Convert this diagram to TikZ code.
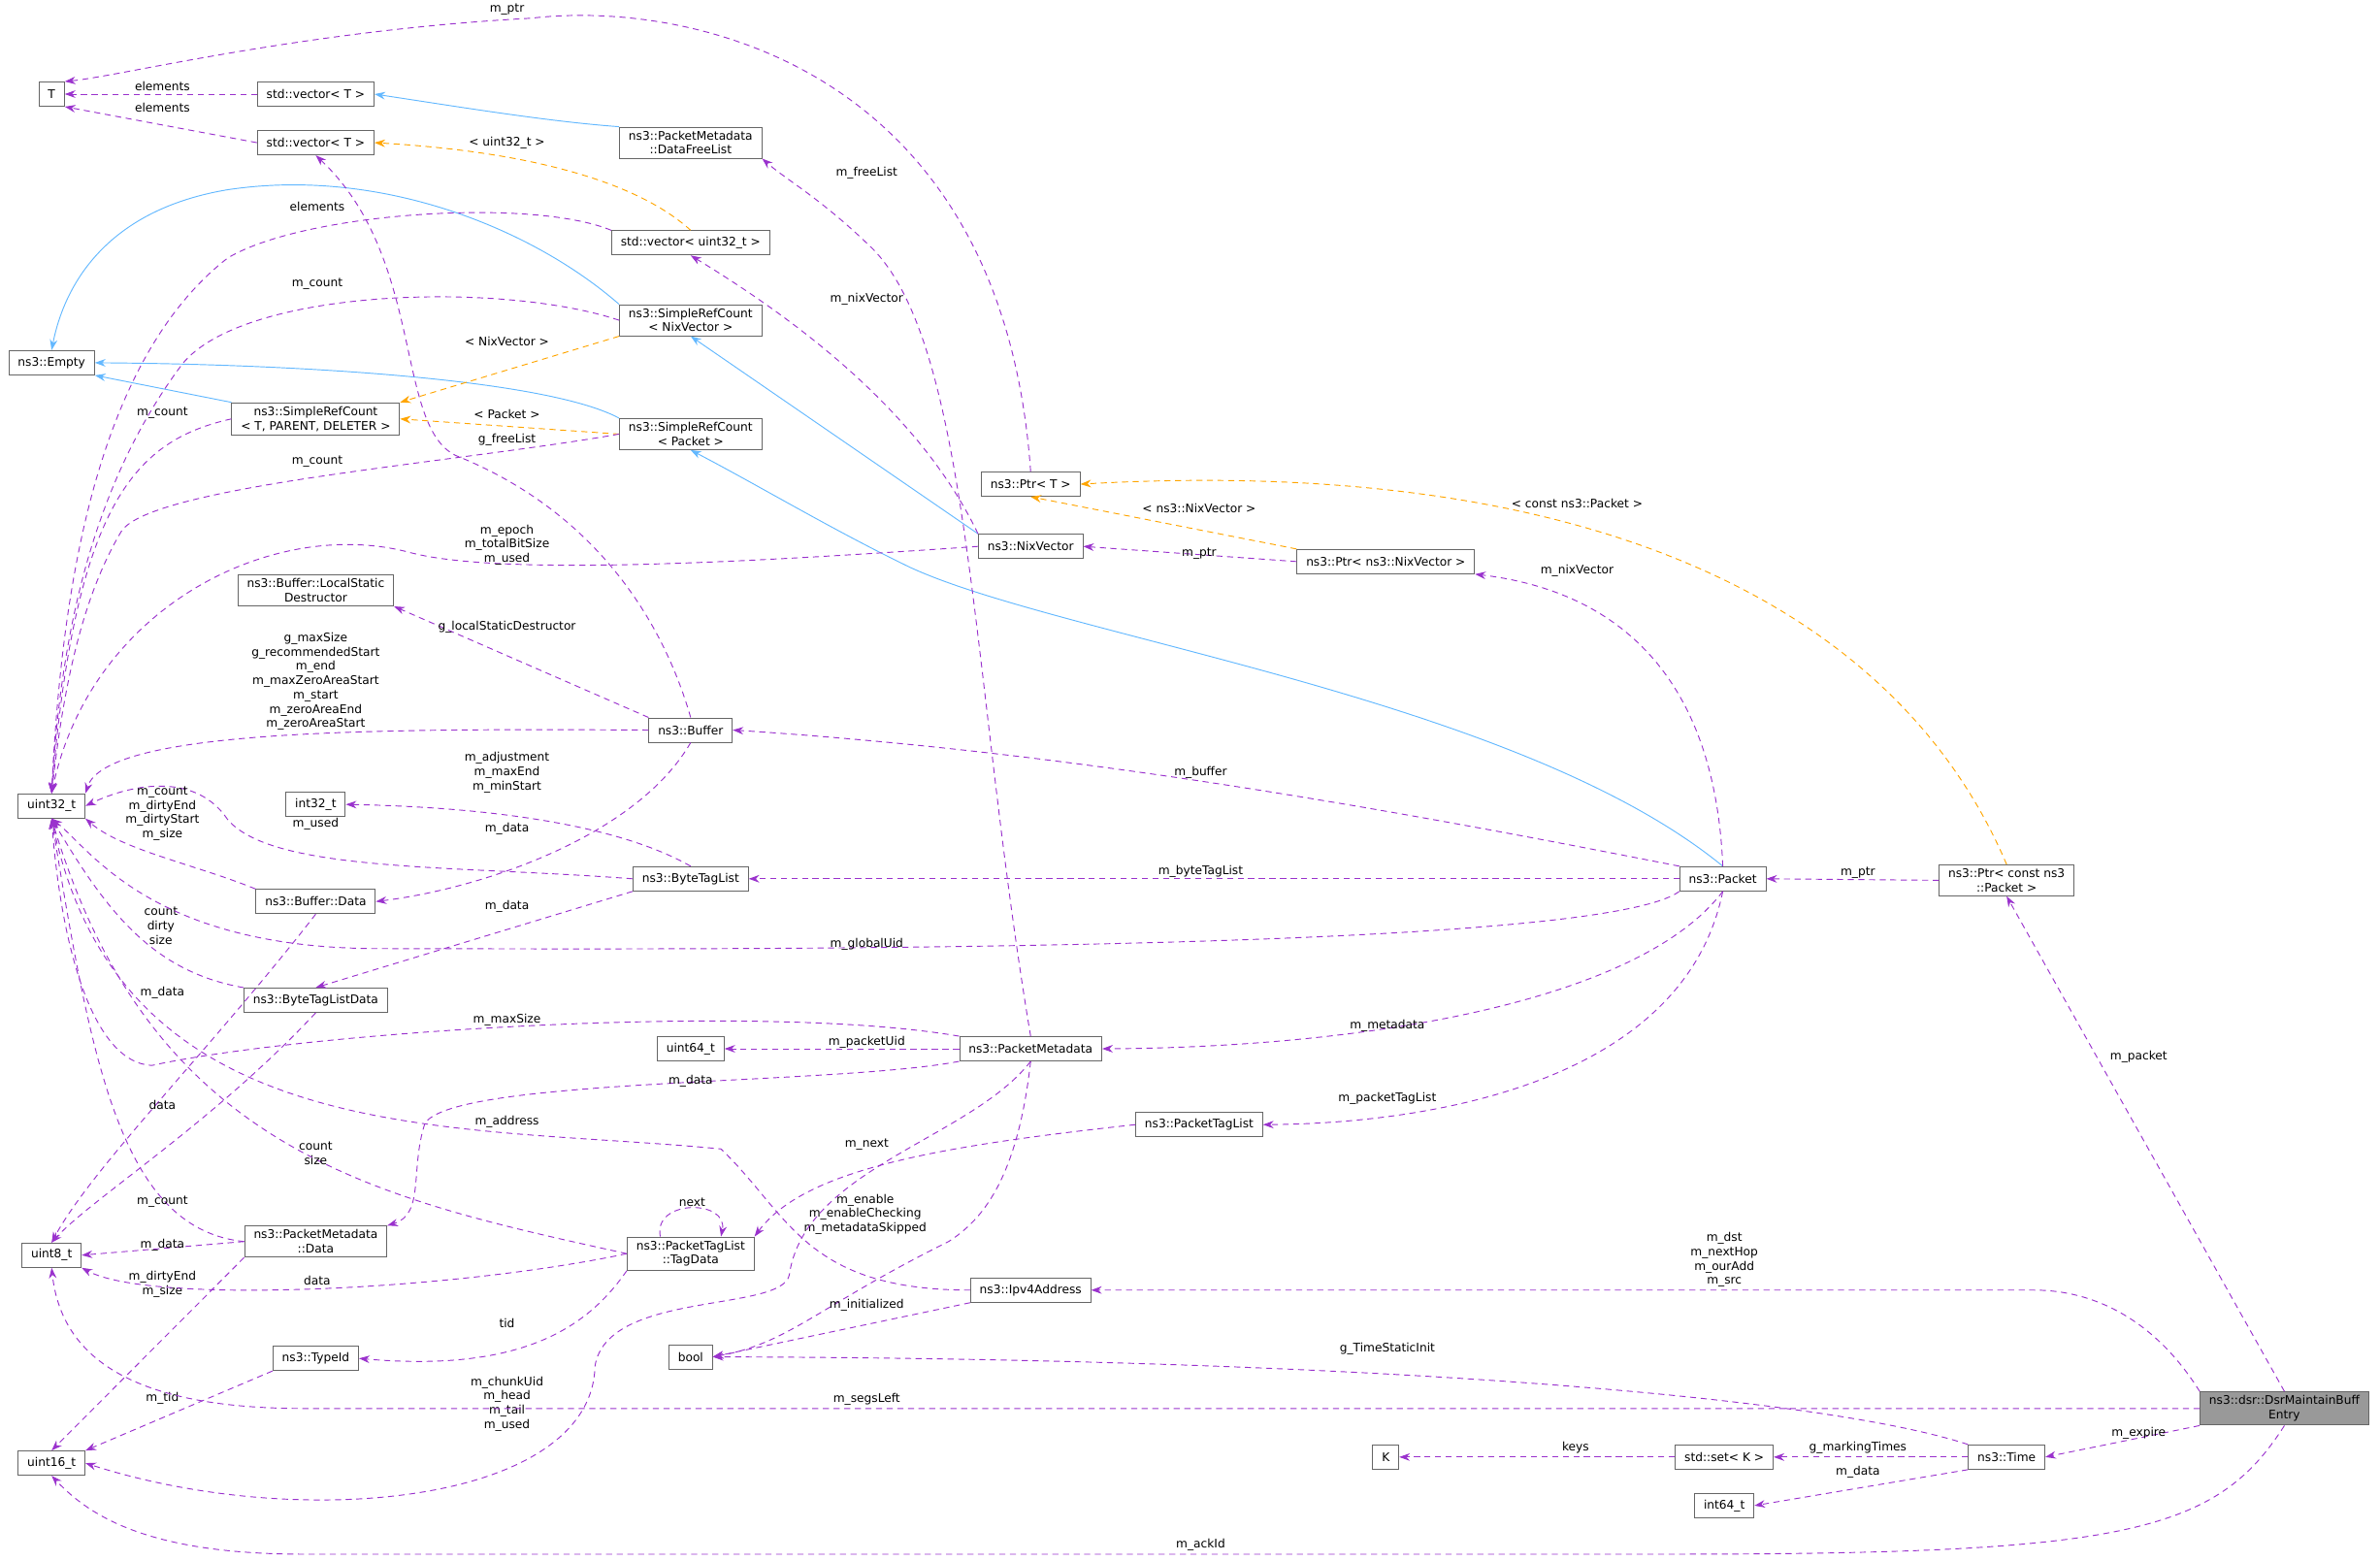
\documentclass[tikz,border=0pt]{standalone}
\usepackage{fontspec}
\setmainfont{DejaVu Sans}
\usetikzlibrary{arrows.meta}
\definecolor{dep}{HTML}{9A32CD}
\definecolor{inh}{HTML}{63B8FF}
\definecolor{tpl}{HTML}{FFA500}
\tikzset{
  box/.style={draw=black!60, line width=0.6pt, fill=white, font=\fontsize{7.8}{9.4}\selectfont, inner xsep=6pt, inner ysep=2.5pt, minimum height=16pt, align=center},
  lbl/.style={font=\fontsize{7.8}{9.4}\selectfont, align=center, inner sep=0pt},
  use/.style={draw=dep, dashed, dash pattern=on 4pt off 3pt, line width=0.6pt, -{Stealth[length=7pt,width=5pt]}},
  isa/.style={draw=inh, line width=0.6pt, -{Stealth[length=7pt,width=5pt]}},
  tmpl/.style={draw=tpl, dashed, dash pattern=on 4pt off 3pt, line width=0.6pt, -{Stealth[length=7pt,width=5pt]}}
}
\begin{document}
\begin{tikzpicture}[x=1pt,y=-1pt]
\useasboundingbox (0,0) rectangle (1568,1028);
% nodes
\node[box] (T) at (34,62) {T};
\node[box] (vecTa) at (208,62) {std::vector< T >};
\node[box] (vecTb) at (208,94) {std::vector< T >};
\node[box] (PMDFL) at (455,94) {ns3::PacketMetadata\\::DataFreeList};
\node[box] (vecU) at (455,160) {std::vector< uint32\_t >};
\node[box] (SRCnix) at (455,211) {ns3::SimpleRefCount\\< NixVector >};
\node[box] (Empty) at (34,239) {ns3::Empty};
\node[box] (SRCT) at (208,276) {ns3::SimpleRefCount\\< T, PARENT, DELETER >};
\node[box] (SRCpkt) at (455,286) {ns3::SimpleRefCount\\< Packet >};
\node[box] (PtrT) at (679,319) {ns3::Ptr< T >};
\node[box] (NixVector) at (679,360) {ns3::NixVector};
\node[box] (PtrNix) at (913,370) {ns3::Ptr< ns3::NixVector >};
\node[box] (LSD) at (208,389) {ns3::Buffer::LocalStatic\\Destructor};
\node[box] (Buffer) at (455,481) {ns3::Buffer};
\node[box] (uint32) at (34,531) {uint32\_t};
\node[box] (int32) at (208,530) {int32\_t};
\node[box] (BTL) at (455,579) {ns3::ByteTagList};
\node[box] (BufData) at (208,594) {ns3::Buffer::Data};
\node[box] (Packet) at (1135,579) {ns3::Packet};
\node[box] (PtrPkt) at (1322,580) {ns3::Ptr< const ns3\\::Packet >};
\node[box] (BTLD) at (208,659) {ns3::ByteTagListData};
\node[box] (uint64) at (455,691) {uint64\_t};
\node[box] (PM) at (679,691) {ns3::PacketMetadata};
\node[box] (PTL) at (790,741) {ns3::PacketTagList};
\node[box] (uint8) at (34,827) {uint8\_t};
\node[box] (PMData) at (208,818) {ns3::PacketMetadata\\::Data};
\node[box] (TagData) at (455,826) {ns3::PacketTagList\\::TagData};
\node[box] (Ipv4) at (679,850) {ns3::Ipv4Address};
\node[box] (bool) at (455,894) {bool};
\node[box] (TypeId) at (208,895) {ns3::TypeId};
\node[box, fill=black!40] (DSR) at (1505,928) {ns3::dsr::DsrMaintainBuff\\Entry};
\node[box] (uint16) at (34,964) {uint16\_t};
\node[box] (K) at (913,960) {K};
\node[box] (setK) at (1136,960) {std::set< K >};
\node[box] (Time) at (1322,960) {ns3::Time};
\node[box] (int64) at (1136,992) {int64\_t};

% inheritance
\draw[isa] (PMDFL.north west) .. controls (360,80) and (300,70) .. (vecTa.east);
\draw[isa] (SRCnix.north west) .. controls (350,150) and (250,110) .. (150,125) .. controls (60,140) and (40,200) .. (Empty.north);
\draw[isa] (SRCT.north west) -- (Empty.south east);
\draw[isa] (SRCpkt.north west) .. controls (360,250) and (200,240) .. (Empty.east);
\draw[isa] (NixVector.north west) -- (SRCnix.south);
\draw[isa] (Packet.north) .. controls (1000,460) and (700,420) .. (600,374) .. controls (550,350) and (500,320) .. (SRCpkt.south);

% template
\draw[tmpl] (vecU.north) .. controls (420,120) and (350,100) .. (vecTb.east);
\node[lbl] (l1) at (334,94) {< uint32\_t >};
\draw[tmpl] (SRCnix.south west) -- (SRCT.north east);
\node[lbl] (l2) at (334,225) {< NixVector >};
\draw[tmpl] (SRCpkt.west) -- (SRCT.east);
\node[lbl] (l3) at (334,273) {< Packet >};
\draw[tmpl] (PtrNix.north west) -- (PtrT.south);
\node[lbl] (l4) at (790,335) {< ns3::NixVector >};
\draw[tmpl] (PtrPkt.north) .. controls (1250,400) and (1050,300) .. (PtrT.east);
\node[lbl] (l5) at (1039,332) {< const ns3::Packet >};

% usage
\draw[use] (vecTa.west) -- (T.east);
\node[lbl] (u1) at (107,57) {elements};
\draw[use] (vecTb.west) -- (T.south east);
\node[lbl] (u2) at (107,71) {elements};
\draw[use] (PtrT.north) .. controls (660,40) and (450,0) .. (350,12) .. controls (200,20) and (80,50) .. (T.north east);
\node[lbl] (u3) at (334,6) {m\_ptr};
\draw[use] (vecU.north west) .. controls (350,130) and (200,140) .. (150,170) .. controls (60,240) and (40,400) .. (uint32.north);
\node[lbl] (u4) at (209,136) {elements};
\draw[use] (SRCnix.west) .. controls (330,185) and (160,190) .. (120,240) .. controls (60,320) and (40,420) .. (uint32.north);
\node[lbl] (u5) at (209,187) {m\_count};
\draw[use] (SRCT.west) .. controls (90,290) and (50,330) .. (uint32.north);
\node[lbl] (u6) at (107,272) {m\_count};
\draw[use] (SRCpkt.west) .. controls (300,305) and (100,320) .. (80,350) .. controls (50,400) and (40,470) .. (uint32.north);
\node[lbl] (u7) at (209,304) {m\_count};
\draw[use] (NixVector.west) .. controls (500,370) and (330,380) .. (270,364) .. controls (180,340) and (60,400) .. (uint32.north);
\node[lbl] (u8) at (334,359) {m\_epoch\\m\_totalBitSize\\m\_used};
\draw[use] (PtrNix.west) -- (NixVector.east);
\node[lbl] (u9) at (790,365) {m\_ptr};
\draw[use] (NixVector.north west) .. controls (610,280) and (540,220) .. (vecU.south);
\node[lbl] (u10) at (571,197) {m\_nixVector};
\draw[use] (PM.north) .. controls (640,450) and (640,230) .. (575,164) .. controls (540,130) and (520,120) .. (PMDFL.south east);
\node[lbl] (u11) at (571,114) {m\_freeList};
\draw[use] (Buffer.north west) -- (LSD.south east);
\node[lbl] (u12) at (334,413) {g\_localStaticDestructor};
\draw[use] (Buffer.west) .. controls (250,480) and (70,480) .. (uint32.north east);
\node[lbl] (u13) at (208,449) {g\_maxSize\\g\_recommendedStart\\m\_end\\m\_maxZeroAreaStart\\m\_start\\m\_zeroAreaEnd\\m\_zeroAreaStart};
\draw[use] (Buffer.north) .. controls (440,420) and (400,340) .. (300,300) .. controls (260,280) and (280,170) .. (vecTb.south);
\node[lbl] (u14) at (334,290) {g\_freeList};
\draw[use] (Buffer.south) .. controls (420,550) and (320,585) .. (BufData.east);
\node[lbl] (u15) at (334,546) {m\_data};
\draw[use] (BTL.north) .. controls (410,545) and (330,532) .. (int32.east);
\node[lbl] (u16) at (334,509) {m\_adjustment\\m\_maxEnd\\m\_minStart};
\draw[use] (BTL.west) .. controls (300,570) and (180,575) .. (150,540) .. controls (130,510) and (90,515) .. (uint32.east);
\node[lbl] (u17) at (208,543) {m\_used};
\draw[use] (BTL.south west) -- (BTLD.north);
\node[lbl] (u18) at (334,597) {m\_data};
\draw[use] (BufData.north west) .. controls (130,570) and (80,560) .. (uint32.south east);
\node[lbl] (u19) at (107,536) {m\_count\\m\_dirtyEnd\\m\_dirtyStart\\m\_size};
\draw[use] (BufData.south) .. controls (140,690) and (60,770) .. (uint8.north);
\node[lbl] (u20) at (107,654) {m\_data};
\draw[use] (BTLD.north west) .. controls (100,640) and (70,600) .. (uint32.south);
\node[lbl] (u21) at (106,610) {count\\dirty\\size};
\draw[use] (BTLD.south) .. controls (140,740) and (60,790) .. (uint8.north);
\node[lbl] (u22) at (107,728) {data};
\draw[use] (PM.north west) .. controls (500,660) and (200,680) .. (100,702) .. controls (60,700) and (40,620) .. (uint32.south);
\node[lbl] (u23) at (334,672) {m\_maxSize};
\draw[use] (PM.west) -- (uint64.east);
\node[lbl] (u24) at (571,687) {m\_packetUid};
\draw[use] (PM.south west) .. controls (550,715) and (300,710) .. (280,740) .. controls (270,770) and (280,800) .. (PMData.north east);
\node[lbl] (u25) at (455,712) {m\_data};
\draw[use] (PM.south) .. controls (670,780) and (645,805) .. (625,818) .. controls (540,860) and (520,885) .. (bool.east);
\node[lbl] (u26) at (570,800) {m\_enable\\m\_enableChecking\\m\_metadataSkipped};
\draw[use] (PM.south) .. controls (640,750) and (530,770) .. (520,840) .. controls (515,865) and (400,850) .. (392,900) .. controls (390,990) and (200,1010) .. (uint16.east);
\node[lbl] (u27) at (334,925) {m\_chunkUid\\m\_head\\m\_tail\\m\_used};
\draw[use] (PMData.west) .. controls (80,810) and (60,700) .. (uint32.south);
\node[lbl] (u28) at (107,792) {m\_count};
\draw[use] (PMData.west) -- (uint8.east);
\node[lbl] (u29) at (107,820) {m\_data};
\draw[use] (PMData.south west) -- (uint16.north);
\node[lbl] (u30) at (107,846) {m\_dirtyEnd\\m\_size};
\draw[use] (TagData.west) .. controls (250,790) and (100,760) .. (uint32.south);
\node[lbl] (u31) at (208,760) {count\\size};
\draw[use] (TagData.west) .. controls (300,850) and (100,860) .. (uint8.south east);
\node[lbl] (u32) at (209,844) {data};
\draw[use] ([xshift=-20pt]TagData.north) .. controls (430,790) and (480,790) .. ([xshift=20pt]TagData.north);
\node[lbl] (u33) at (456,792) {next};
\draw[use] (TagData.south west) .. controls (390,870) and (350,905) .. (TypeId.east);
\node[lbl] (u34) at (334,872) {tid};
\draw[use] (PTL.west) .. controls (620,755) and (530,770) .. (TagData.north east);
\node[lbl] (u35) at (571,754) {m\_next};
\draw[use] (TypeId.south west) -- (uint16.north east);
\node[lbl] (u36) at (107,921) {m\_tid};
\draw[use] (Ipv4.west) .. controls (530,850) and (520,800) .. (475,757) .. controls (300,740) and (80,760) .. (uint32.south);
\node[lbl] (u37) at (334,739) {m\_address};
\draw[use] (Ipv4.south west) -- (bool.east);
\node[lbl] (u38) at (571,860) {m\_initialized};
\draw[use] (Packet.north west) .. controls (900,530) and (700,495) .. (Buffer.east);
\node[lbl] (u39) at (791,509) {m\_buffer};
\draw[use] (Packet.west) -- (BTL.east);
\node[lbl] (u40) at (791,574) {m\_byteTagList};
\draw[use] (Packet.south west) .. controls (1050,630) and (400,625) .. (250,625) .. controls (100,625) and (60,560) .. (uint32.south);
\node[lbl] (u41) at (571,622) {m\_globalUid};
\draw[use] (Packet.south) .. controls (1080,660) and (900,690) .. (PM.east);
\node[lbl] (u42) at (914,676) {m\_metadata};
\draw[use] (Packet.south) .. controls (1110,710) and (950,740) .. (PTL.east);
\node[lbl] (u43) at (914,724) {m\_packetTagList};
\draw[use] (Packet.north) .. controls (1130,450) and (1070,390) .. (PtrNix.south east);
\node[lbl] (u44) at (1039,376) {m\_nixVector};
\draw[use] (PtrPkt.west) -- (Packet.east);
\node[lbl] (u45) at (1224,575) {m\_ptr};
\draw[use] (DSR.north) -- (PtrPkt.south);
\node[lbl] (u46) at (1409,696) {m\_packet};
\draw[use] (DSR.north west) .. controls (1420,870) and (1380,850) .. (1340,850) -- (Ipv4.east);
\node[lbl] (u47) at (1136,830) {m\_dst\\m\_nextHop\\m\_ourAdd\\m\_src};
\draw[use] (DSR.west) -- (200,928) .. controls (80,928) and (40,890) .. (uint8.south);
\node[lbl] (u48) at (571,922) {m\_segsLeft};
\draw[use] (DSR.south west) -- (Time.east);
\node[lbl] (u49) at (1409,944) {m\_expire};
\draw[use] (DSR.south) .. controls (1460,1010) and (1400,1024) .. (1100,1024) -- (200,1024) .. controls (100,1024) and (60,1000) .. (uint16.south);
\node[lbl] (u50) at (791,1018) {m\_ackId};
\draw[use] (Time.north west) .. controls (1200,920) and (900,895) .. (bool.east);
\node[lbl] (u51) at (914,889) {g\_TimeStaticInit};
\draw[use] (Time.west) -- (setK.east);
\node[lbl] (u52) at (1224,954) {g\_markingTimes};
\draw[use] (Time.south west) -- (int64.east);
\node[lbl] (u53) at (1224,970) {m\_data};
\draw[use] (setK.west) -- (K.east);
\node[lbl] (u54) at (1038,954) {keys};
\end{tikzpicture}
\end{document}
